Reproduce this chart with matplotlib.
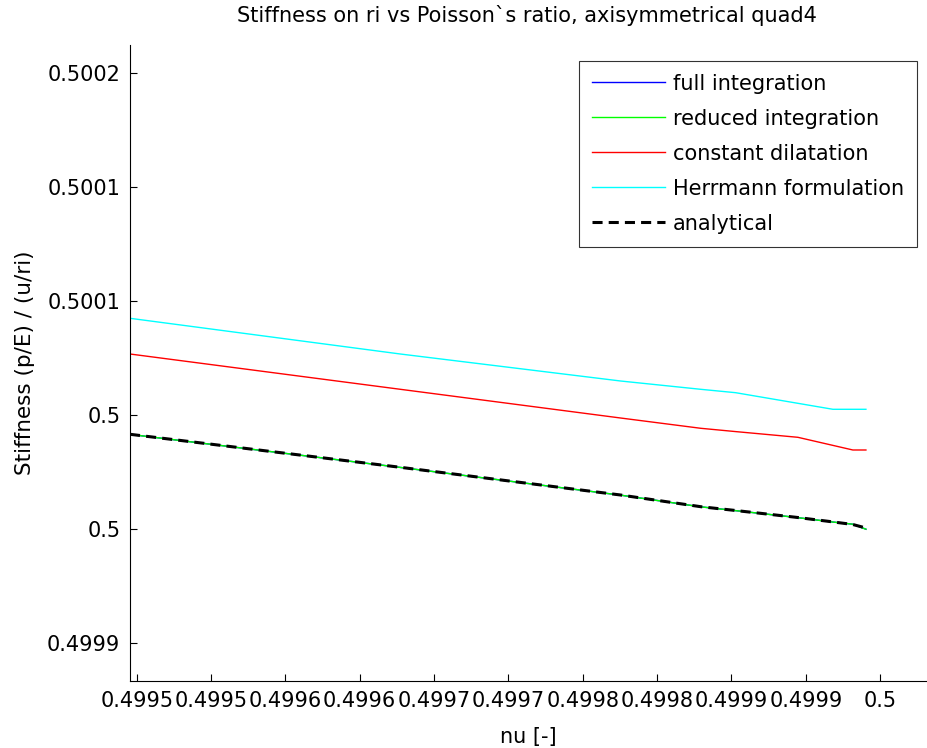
import matplotlib
matplotlib.use("Agg")
import matplotlib.pyplot as plt

# ---- data ----
nu = [0.4994955, 0.4996773, 0.4998254, 0.4998793, 0.4999028,
      0.4999446, 0.4999682, 0.4999816, 0.4999904]
reduced = [0.49999150, 0.49997700, 0.49996485, 0.49995972, 0.49995805,
           0.49995498, 0.49995305, 0.49995210, 0.49994990]
full = list(reduced)  # hidden beneath the reduced-integration curve
dilatation = [0.50002675, 0.50001127, 0.49999868, 0.49999417, 0.49999272,
              0.49999022, 0.49998667, 0.49998465, 0.49998465]
herrmann = [0.50004241, 0.50002675, 0.50001491, 0.50001127, 0.50000978,
            0.50000513, 0.50000250, 0.50000250, 0.50000250]
analytical = [0.49999154, 0.49997706, 0.49996491, 0.49995978, 0.49995811,
              0.49995504, 0.49995311, 0.49995197, 0.49995044]

xticks = [0.49950, 0.49955, 0.49960, 0.49965, 0.49970, 0.49975,
          0.49980, 0.49985, 0.49990, 0.49995, 0.50000]
xticklabels = ["0.4995", "0.4995", "0.4996", "0.4996", "0.4997", "0.4997",
               "0.4998", "0.4998", "0.4999", "0.4999", "0.5"]
yticks = [0.49990, 0.49995, 0.50000, 0.50005, 0.50010, 0.50015]
yticklabels = ["0.4999", "0.5", "0.5", "0.5001", "0.5001", "0.5002"]

plt.rcParams['font.family'] = ['DejaVu Sans']

W, H = 927, 748
fig = plt.figure(figsize=(W / 100, H / 100), dpi=100)
L, R, T, B = 130, 926, 45, 681
ax = fig.add_axes([L / W, 1 - B / H, (R - L) / W, (B - T) / H])

ax.plot(nu, full, color=(0, 0, 1), lw=1.0, label="full integration")
ax.plot(nu, reduced, color=(0, 1, 0), lw=1.0, label="reduced integration")
ax.plot(nu, dilatation, color=(1, 0, 0), lw=1.0, label="constant dilatation")
ax.plot(nu, herrmann, color=(0, 1, 1), lw=1.0, label="Herrmann formulation")
ax.plot(nu, analytical, color='k', lw=2.2, ls=(0, (3.3, 2.0)), label="analytical")

ax.set_xlim(0.4994955, 0.5000308)
ax.set_ylim(0.49988333, 0.50016228)
ax.set_xticks(xticks)
ax.set_xticklabels(xticklabels)
ax.set_yticks(yticks)
ax.set_yticklabels(yticklabels)
ax.tick_params(direction='in', length=5, width=0.8, labelsize=15, pad=7,
               colors='k')
for s in ['top', 'right']:
    ax.spines[s].set_visible(False)
for s in ['left', 'bottom']:
    ax.spines[s].set_linewidth(0.8)

ax.set_xlabel("nu [-]", fontsize=15, labelpad=12)
ax.set_ylabel("Stiffness (p/E) / (u/ri)", fontsize=15.5, labelpad=9)
fig.text(527 / W, 1 - 15 / H, "Stiffness on ri vs Poisson`s ratio, axisymmetrical quad4",
         ha='center', va='center', fontsize=15)

leg = ax.legend(loc='upper right', bbox_to_anchor=((917 - L) / (R - L), (B - 60.7) / (B - T)),
                fontsize=15, frameon=True, fancybox=False, edgecolor='k',
                handlelength=3.5, handletextpad=0.4, labelspacing=0.72,
                borderpad=0.62, borderaxespad=0)
leg.get_frame().set_linewidth(0.8)

fig.savefig("out.png", dpi=100)
